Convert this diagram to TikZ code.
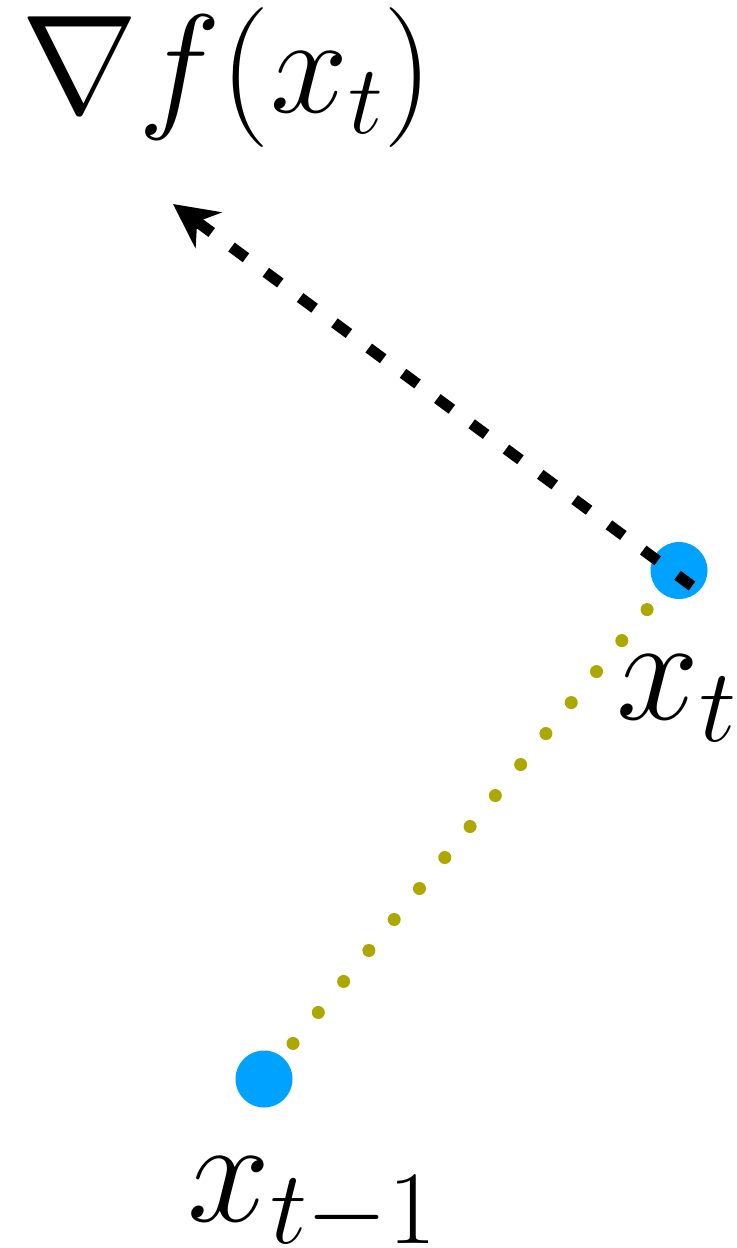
\RequirePackage{fix-cm}
\documentclass[tikz,border=0pt]{standalone}
\usetikzlibrary{arrows.meta,positioning}

\definecolor{iterblue}{RGB}{0,162,255}
\definecolor{stepolive}{RGB}{172,168,0}

\begin{document}
\begin{tikzpicture}[
    x=0.5pt, y=-0.5pt,
    >={Stealth[length=22pt,width=22pt,inset=7pt]},
    every node/.style={font={\fontsize{74.5}{90}\selectfont}}
]

% Define styles
\tikzstyle{iterate} = [circle, fill=iterblue, inner sep=0pt, outer sep=0pt,
    minimum size=28.5pt]
\tikzstyle{lbl} = [anchor=base, inner sep=0pt]
\tikzstyle{steppath} = [draw=stepolive, line width=6.5pt, line cap=round,
    dash pattern=on 0pt off 20pt, dash phase=11.3pt]
\tikzstyle{grad} = [draw, ->, line width=5.5pt, dash pattern=on 9pt off 12.3pt]

\useasboundingbox (0,0) rectangle (737,1248);

% Nodes
\node [iterate] (xprev) at (264,1079) {};
\node [iterate] (xt) at (679,570.5) {};
\node [lbl] (xprevlbl) at (312,1221) {$x_{t-1}$};
\node [lbl] (xtlbl) at (676.5,719) {$x_t$};
\node [lbl, font={\fontsize{70}{84}\selectfont}] (gradlbl) at (227.5,112) {$\nabla f(x_t)$};

% Gradient end points
\coordinate (gbase) at (692,586);
\coordinate (gtip) at (173,204);

% Paths
\path [steppath] (xprev) -- (xt);
\path [grad] (gbase) -- (gtip);

\end{tikzpicture}
\end{document}
